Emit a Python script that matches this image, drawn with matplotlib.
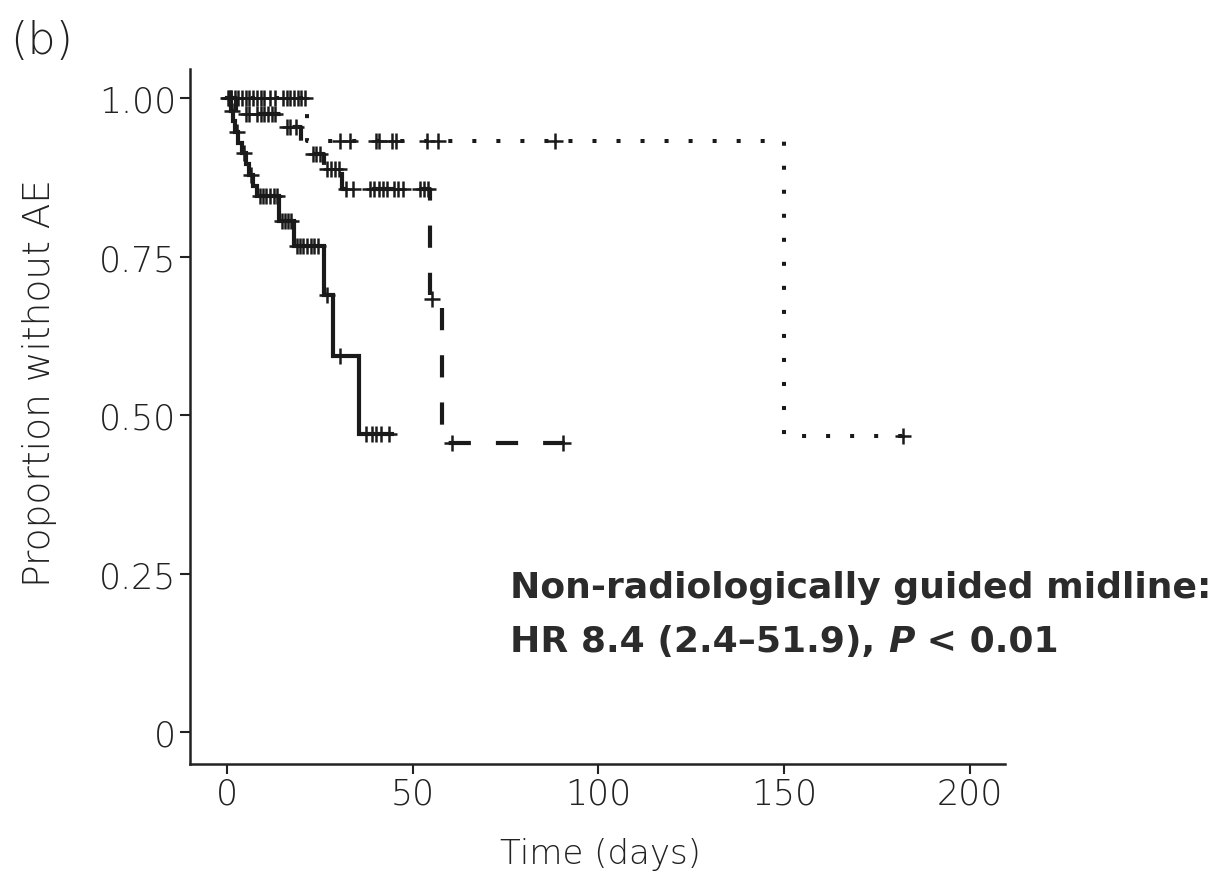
import numpy as np
import matplotlib
matplotlib.use("Agg")
import matplotlib.pyplot as plt

plt.rcParams['lines.scale_dashes'] = False

# ---------------- data ----------------
# solid curve
solid_t = [0, 1, 1.5, 2.2, 3, 4, 5, 6, 7, 8, 14, 18, 26, 28.5, 35.5]
solid_s = [1.0, 0.98, 0.964, 0.946, 0.93, 0.913, 0.896, 0.879, 0.862, 0.845, 0.806, 0.767, 0.69, 0.593, 0.47]
solid_end = 44.5
solid_cens = [0.5, 1.2, 2.6, 4.5, 6.5, 8.8, 9.6, 10.5, 11.5, 12.5, 13.3, 14.8, 15.6, 16.4, 17.3,
              18.8, 19.6, 20.5, 21.5, 22.5, 23.5, 24.5, 27, 30.5, 37.5, 39, 40, 41.5, 43.5]

# dashed curve
dash_t = [0, 2.5, 15, 20, 22, 26, 31, 54.6, 57.8]
dash_s = [1.0, 0.975, 0.955, 0.933, 0.912, 0.888, 0.856, 0.683, 0.456]
dash_end = 91
dash_cens = [1, 5, 6, 8, 9, 10, 11, 12, 13, 16, 17, 18.5, 23, 24, 25, 27, 28, 29, 30,
             32, 34, 38.5, 39.5, 41, 42, 43, 45, 46, 47.5, 52, 53, 54, 55.3, 60.5, 90.5]

# dotted curve
dot_t = [0, 21.5, 150]
dot_s = [1.0, 0.933, 0.467]
dot_end = 182
dot_cens = [0.3, 1, 2, 3, 4, 5, 6, 7, 8, 9, 10, 11.5, 13, 15, 16, 17, 18, 19, 20, 21,
            30.4, 33, 40, 41, 44.4, 45.5, 53.8, 56.8, 88.3, 182]

x_ticks = [0, 50, 100, 150, 200]
y_ticks = [0, 0.25, 0.50, 0.75, 1.00]
y_ticklabels = ["0", "0.25", "0.50", "0.75", "1.00"]

# ---------------- figure ----------------
W, H = 1221, 879
fig = plt.figure(figsize=(W / 100, H / 100), dpi=100)
ax = fig.add_axes([190 / W, 1 - 765 / H, (1005 - 190) / W, (765 - 70) / H])

ink = '#1a1a1a'
light_font = dict(family='DejaVu Sans', weight='light')


def surv_at(times, surv, t):
    idx = np.searchsorted(np.asarray(times), np.asarray(t), side='right') - 1
    return np.asarray(surv)[idx]


def draw(times, surv, end, cens, lw, dashes=None):
    xs = list(times) + [end]
    ys = list(surv) + [surv[-1]]
    line, = ax.step(xs, ys, where='post', color=ink, lw=lw, solid_joinstyle='miter')
    if dashes is not None:
        line.set_dashes(dashes)
        line.set_dash_capstyle('butt')
    ax.plot(cens, surv_at(times, surv, cens), linestyle='none', marker='+',
            markersize=12, markeredgewidth=1.8, color=ink)


draw(dot_t, dot_s, dot_end, dot_cens, 2.9, dashes=(2.9, 14.4))
draw(dash_t, dash_s, dash_end, dash_cens, 3.0, dashes=(16, 18))
draw(solid_t, solid_s, solid_end, solid_cens, 3.0)

ax.set_xlim(-10, 209.5)
ax.set_ylim(-0.05, 1.046)
ax.set_xticks(x_ticks)
ax.set_yticks(y_ticks)
ax.set_yticklabels(y_ticklabels)
for s in ['top', 'right']:
    ax.spines[s].set_visible(False)
for s in ['left', 'bottom']:
    ax.spines[s].set_linewidth(1.8)
    ax.spines[s].set_color('#222222')
ax.tick_params(axis='both', direction='out', length=7, width=1.5, colors='#222222',
               labelsize=25, labelcolor='#222222')
ax.tick_params(axis='y', pad=3)
ax.tick_params(axis='x', pad=2)
for lab in ax.get_xticklabels() + ax.get_yticklabels():
    lab.set_fontfamily('DejaVu Sans')
    lab.set_fontweight('light')

fig.text(40 / W, 1 - 383 / H, "Proportion without AE", rotation=90, ha='center', va='center',
         fontsize=27, color='#222222', **light_font)
fig.text(600 / W, 1 - 855 / H, "Time (days)", ha='center', va='center',
         fontsize=24.5, color='#222222', **light_font)
fig.text(10 / W, 1 - 42 / H, "(b)", ha='left', va='center', fontsize=32,
         color='#222222', **light_font)

bold = dict(family='DejaVu Sans', weight='bold', fontsize=26, color='#2b2b2b')
fig.text(510 / W, 1 - 598 / H, "Non-radiologically guided midline:", ha='left', va='baseline', **bold)

renderer = fig.canvas.get_renderer()
x0 = 510 / W
yb = 1 - 652 / H
t1 = fig.text(x0, yb, "HR 8.4 (2.4\u201351.9), ", ha='left', va='baseline', **bold)
bb = t1.get_window_extent(renderer)
t2 = fig.text(bb.x1 / W, yb, "P", ha='left', va='baseline', style='italic', **bold)
bb2 = t2.get_window_extent(renderer)
fig.text(bb2.x1 / W, yb, " < 0.01", ha='left', va='baseline', **bold)

fig.savefig("out.png", dpi=100, facecolor='white')
